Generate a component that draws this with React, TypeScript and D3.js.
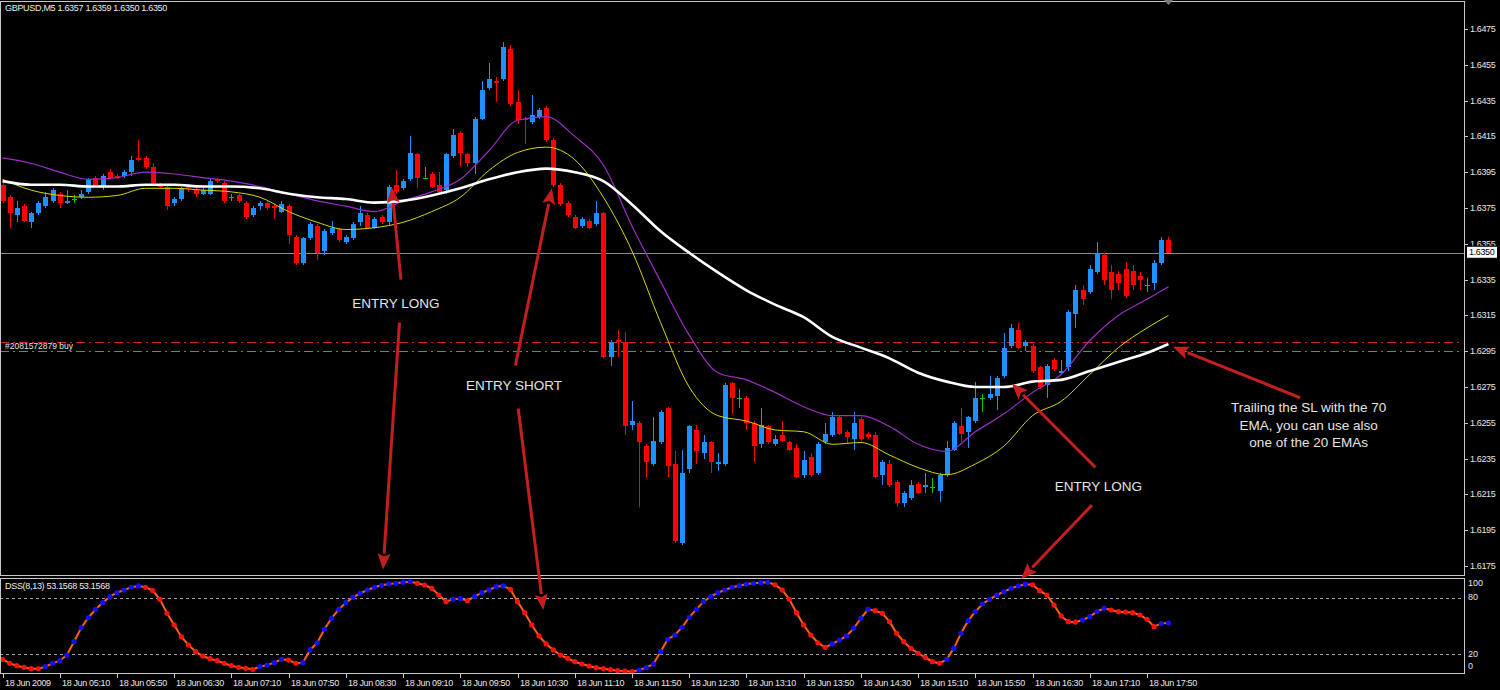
import React, { useEffect, useRef } from 'react';
import * as d3 from 'd3';

const WIDTH = 1500;
const HEIGHT = 690;

// M5 bars from 18 Jun 04:30, a time label every 8 bars
const TIME_LABELS = [
  '18 Jun 2009', '18 Jun 05:10', '18 Jun 05:50', '18 Jun 06:30', '18 Jun 07:10', '18 Jun 07:50',
  '18 Jun 08:30', '18 Jun 09:10', '18 Jun 09:50', '18 Jun 10:30', '18 Jun 11:10', '18 Jun 11:50',
  '18 Jun 12:30', '18 Jun 13:10', '18 Jun 13:50', '18 Jun 14:30', '18 Jun 15:10', '18 Jun 15:50',
  '18 Jun 16:30', '18 Jun 17:10', '18 Jun 17:50',
];

const OPEN = [
  1.6388, 1.6381, 1.6371, 1.6376, 1.6367, 1.6372, 1.6376, 1.6379, 1.6383, 1.6378,
  1.6380, 1.6381, 1.6384, 1.6392, 1.6387, 1.6395, 1.6393, 1.6393, 1.6395, 1.6403,
  1.6403, 1.6398, 1.6388, 1.6387, 1.6378, 1.6380, 1.6387, 1.6385, 1.6383, 1.6383,
  1.6391, 1.6389, 1.6381, 1.6382, 1.6378, 1.6371, 1.6376, 1.6378, 1.6376, 1.6373,
  1.6376, 1.6359, 1.6344, 1.6358, 1.6365, 1.6351, 1.6361, 1.6363, 1.6356, 1.6358,
  1.6367, 1.6371, 1.6364, 1.6370, 1.6367, 1.6388, 1.6386, 1.6391, 1.6405, 1.6392,
  1.6394, 1.6388, 1.6385, 1.6404, 1.6417, 1.6405, 1.6400, 1.6425, 1.6442, 1.6446,
  1.6447, 1.6464, 1.6434, 1.6425, 1.6423, 1.6426, 1.6431, 1.6413, 1.6388, 1.6378,
  1.6370, 1.6365, 1.6368, 1.6366, 1.6372, 1.6292, 1.6301, 1.6300, 1.6254, 1.6255,
  1.6242, 1.6232, 1.6244, 1.6263, 1.6232, 1.6188, 1.6229, 1.6251, 1.6238, 1.6244,
  1.6232, 1.6232, 1.6277, 1.6269, 1.6269, 1.6255, 1.6243, 1.6253, 1.6243, 1.6248,
  1.6244, 1.6241, 1.6226, 1.6236, 1.6227, 1.6244, 1.6248, 1.6258, 1.6250, 1.6246,
  1.6257, 1.6249, 1.6248, 1.6226, 1.6232, 1.6222, 1.6210, 1.6213, 1.6221, 1.6219,
  1.6219, 1.6217, 1.6226, 1.6240, 1.6253, 1.6250, 1.6256, 1.6269, 1.6269, 1.6270,
  1.6281, 1.6298, 1.6307, 1.6298, 1.6298, 1.6286, 1.6276, 1.6290, 1.6283, 1.6286,
  1.6316, 1.6329, 1.6328, 1.6339, 1.6349, 1.6339, 1.6338, 1.6341, 1.6340, 1.6337,
  1.6332, 1.6333, 1.6344, 1.6357,
];
const HIGH = [
  1.6389, 1.6382, 1.6379, 1.6377, 1.6373, 1.6379, 1.6384, 1.6386, 1.6384, 1.6385,
  1.6382, 1.6385, 1.6392, 1.6393, 1.6394, 1.6397, 1.6394, 1.6396, 1.6404, 1.6413,
  1.6404, 1.6400, 1.6389, 1.6388, 1.6381, 1.6387, 1.6388, 1.6386, 1.6386, 1.6391,
  1.6392, 1.6390, 1.6383, 1.6383, 1.6379, 1.6376, 1.6379, 1.6379, 1.6377, 1.6379,
  1.6377, 1.6360, 1.6359, 1.6367, 1.6366, 1.6363, 1.6368, 1.6364, 1.6360, 1.6367,
  1.6376, 1.6372, 1.6370, 1.6371, 1.6388, 1.6396, 1.6391, 1.6415, 1.6406, 1.6398,
  1.6395, 1.6395, 1.6406, 1.6419, 1.6418, 1.6406, 1.6426, 1.6446, 1.6456, 1.6448,
  1.6468, 1.6466, 1.6441, 1.6426, 1.6438, 1.6431, 1.6432, 1.6414, 1.6389, 1.6379,
  1.6371, 1.6370, 1.6369, 1.6379, 1.6373, 1.6301, 1.6307, 1.6306, 1.6267, 1.6256,
  1.6243, 1.6258, 1.6262, 1.6264, 1.6239, 1.6240, 1.6254, 1.6254, 1.6248, 1.6245,
  1.6238, 1.6277, 1.6278, 1.6274, 1.6270, 1.6256, 1.6263, 1.6254, 1.6248, 1.6256,
  1.6245, 1.6243, 1.6239, 1.6238, 1.6244, 1.6255, 1.6261, 1.6259, 1.6251, 1.6261,
  1.6258, 1.6250, 1.6250, 1.6234, 1.6234, 1.6223, 1.6217, 1.6223, 1.6222, 1.6227,
  1.6224, 1.6227, 1.6245, 1.6256, 1.6263, 1.6259, 1.6278, 1.6271, 1.6281, 1.6281,
  1.6305, 1.6310, 1.6311, 1.6301, 1.6299, 1.6287, 1.6288, 1.6291, 1.6290, 1.6318,
  1.6332, 1.6332, 1.6343, 1.6356, 1.6350, 1.6343, 1.6340, 1.6345, 1.6343, 1.6339,
  1.6336, 1.6346, 1.6359, 1.6359,
];
const LOW = [
  1.6378, 1.6364, 1.6367, 1.6367, 1.6364, 1.6371, 1.6375, 1.6378, 1.6375, 1.6377,
  1.6378, 1.6380, 1.6383, 1.6387, 1.6385, 1.6391, 1.6391, 1.6392, 1.6393, 1.6401,
  1.6397, 1.6388, 1.6386, 1.6374, 1.6376, 1.6379, 1.6384, 1.6381, 1.6382, 1.6382,
  1.6389, 1.6378, 1.6379, 1.6378, 1.6369, 1.6370, 1.6374, 1.6374, 1.6369, 1.6372,
  1.6355, 1.6343, 1.6343, 1.6357, 1.6346, 1.6349, 1.6360, 1.6356, 1.6355, 1.6357,
  1.6365, 1.6363, 1.6363, 1.6366, 1.6365, 1.6383, 1.6385, 1.6390, 1.6386, 1.6391,
  1.6386, 1.6383, 1.6383, 1.6403, 1.6398, 1.6398, 1.6394, 1.6424, 1.6441, 1.6434,
  1.6446, 1.6432, 1.6422, 1.6411, 1.6422, 1.6425, 1.6412, 1.6387, 1.6376, 1.6370,
  1.6363, 1.6364, 1.6363, 1.6365, 1.6291, 1.6287, 1.6292, 1.6248, 1.6251, 1.6208,
  1.6224, 1.6231, 1.6243, 1.6225, 1.6188, 1.6187, 1.6227, 1.6232, 1.6235, 1.6227,
  1.6228, 1.6231, 1.6260, 1.6263, 1.6251, 1.6233, 1.6241, 1.6243, 1.6242, 1.6244,
  1.6239, 1.6224, 1.6224, 1.6225, 1.6226, 1.6243, 1.6247, 1.6248, 1.6243, 1.6240,
  1.6245, 1.6246, 1.6224, 1.6220, 1.6219, 1.6208, 1.6208, 1.6212, 1.6215, 1.6216,
  1.6216, 1.6211, 1.6225, 1.6239, 1.6244, 1.6241, 1.6255, 1.6261, 1.6268, 1.6262,
  1.6280, 1.6297, 1.6296, 1.6295, 1.6283, 1.6274, 1.6269, 1.6284, 1.6282, 1.6284,
  1.6308, 1.6321, 1.6327, 1.6338, 1.6332, 1.6324, 1.6329, 1.6325, 1.6329, 1.6329,
  1.6328, 1.6329, 1.6343, 1.6350,
];
const CLOSE = [
  1.6379, 1.6372, 1.6375, 1.6368, 1.6372, 1.6378, 1.6381, 1.6385, 1.6378, 1.6379,
  1.6380, 1.6383, 1.6391, 1.6388, 1.6393, 1.6392, 1.6392, 1.6395, 1.6402, 1.6402,
  1.6398, 1.6389, 1.6387, 1.6376, 1.6380, 1.6386, 1.6386, 1.6383, 1.6385, 1.6390,
  1.6390, 1.6379, 1.6381, 1.6379, 1.6370, 1.6375, 1.6378, 1.6375, 1.6375, 1.6377,
  1.6360, 1.6344, 1.6358, 1.6366, 1.6350, 1.6362, 1.6364, 1.6357, 1.6359, 1.6366,
  1.6372, 1.6364, 1.6369, 1.6367, 1.6387, 1.6384, 1.6390, 1.6406, 1.6392, 1.6392,
  1.6387, 1.6384, 1.6405, 1.6416, 1.6406, 1.6400, 1.6425, 1.6441, 1.6447, 1.6445,
  1.6465, 1.6433, 1.6424, 1.6424, 1.6427, 1.6430, 1.6413, 1.6388, 1.6377, 1.6371,
  1.6364, 1.6369, 1.6364, 1.6372, 1.6292, 1.6300, 1.6300, 1.6253, 1.6256, 1.6244,
  1.6233, 1.6245, 1.6261, 1.6231, 1.6189, 1.6227, 1.6253, 1.6239, 1.6244, 1.6233,
  1.6233, 1.6276, 1.6269, 1.6269, 1.6255, 1.6242, 1.6254, 1.6244, 1.6246, 1.6245,
  1.6240, 1.6225, 1.6234, 1.6226, 1.6243, 1.6249, 1.6258, 1.6249, 1.6247, 1.6255,
  1.6246, 1.6247, 1.6225, 1.6233, 1.6220, 1.6210, 1.6216, 1.6220, 1.6216, 1.6220,
  1.6219, 1.6226, 1.6241, 1.6255, 1.6249, 1.6258, 1.6269, 1.6269, 1.6271, 1.6280,
  1.6297, 1.6308, 1.6297, 1.6300, 1.6284, 1.6275, 1.6287, 1.6285, 1.6284, 1.6317,
  1.6329, 1.6324, 1.6341, 1.6350, 1.6335, 1.6329, 1.6333, 1.6326, 1.6332, 1.6335,
  1.6332, 1.6344, 1.6357, 1.6350,
];

// moving averages
const MA_BARS = [
  0, 4, 8, 12, 16, 20, 24, 28, 32, 36, 40, 44, 48, 52, 56, 60, 64, 68, 72, 76, 80,
  84, 88, 92, 96, 100, 104, 108, 112, 116, 120, 124, 128, 132, 136, 140, 144, 148, 152, 156, 160, 163,
];
const EMA70 = [
  1.6390, 1.6388, 1.6388, 1.6387, 1.6387, 1.6388, 1.6388, 1.6387, 1.6387, 1.6386, 1.6383,
  1.6381, 1.6380, 1.6378, 1.6379, 1.6382, 1.6386, 1.6391, 1.6395, 1.6397, 1.6395,
  1.6390, 1.6377, 1.6362, 1.6350, 1.6339, 1.6329, 1.6321, 1.6314, 1.6303, 1.6297,
  1.6291, 1.6283, 1.6278, 1.6275, 1.6275, 1.6278, 1.6279, 1.6284, 1.6289, 1.6294, 1.6299,
];
const EMA20_HIGH = [
  1.6403, 1.6400, 1.6395, 1.6391, 1.6392, 1.6395, 1.6394, 1.6392, 1.6390, 1.6387, 1.6383,
  1.6379, 1.6376, 1.6373, 1.6379, 1.6384, 1.6391, 1.6407, 1.6424, 1.6426, 1.6415,
  1.6399, 1.6365, 1.6334, 1.6304, 1.6283, 1.6279, 1.6272, 1.6264, 1.6259, 1.6259,
  1.6253, 1.6243, 1.6239, 1.6250, 1.6260, 1.6272, 1.6282, 1.6301, 1.6315, 1.6324, 1.6331,
];
const EMA20_LOW = [
  1.6391, 1.6385, 1.6382, 1.6381, 1.6382, 1.6386, 1.6386, 1.6385, 1.6384, 1.6381, 1.6373,
  1.6367, 1.6363, 1.6364, 1.6367, 1.6373, 1.6381, 1.6396, 1.6406, 1.6409, 1.6402,
  1.6381, 1.6351, 1.6311, 1.6275, 1.6259, 1.6256, 1.6251, 1.6250, 1.6243, 1.6244,
  1.6237, 1.6230, 1.6226, 1.6232, 1.6242, 1.6259, 1.6267, 1.6282, 1.6297, 1.6308, 1.6315,
];

// DSS(8,13), one value per bar
const DSS = [
  14.6, 10.3, 7.8, 6.0, 4.6, 4.5, 6.7, 10.3, 13.1, 19.1,
  33.3, 48.2, 58.8, 67.7, 74.8, 81.2, 85.4, 88.3, 91.2, 92.6,
  91.2, 87.6, 78.4, 63.5, 51.1, 38.6, 29.8, 22.7, 18.1, 15.2,
  13.1, 10.3, 7.8, 6.0, 5.0, 3.9, 6.7, 8.5, 11.0, 14.6,
  13.8, 10.3, 11.0, 24.5, 32.2, 46.5, 58.2, 67.7, 74.8, 80.5,
  84.8, 88.3, 91.2, 93.3, 94.7, 95.4, 96.5, 97.1, 95.4, 93.6,
  90.1, 83.0, 75.9, 78.4, 79.1, 76.9, 81.2, 85.4, 88.3, 91.8,
  92.6, 89.0, 75.9, 64.2, 51.1, 39.4, 30.9, 24.5, 19.1, 15.6,
  12.0, 9.6, 7.4, 5.7, 4.6, 3.5, 2.5, 2.1, 1.4, 3.2,
  5.7, 9.6, 22.7, 35.8, 40.4, 48.6, 59.3, 67.7, 75.9, 81.2,
  85.4, 88.3, 91.2, 92.9, 94.7, 95.4, 96.1, 96.5, 93.9, 88.3,
  78.4, 64.2, 51.1, 40.4, 32.2, 27.3, 30.9, 35.1, 39.4, 47.5,
  58.2, 67.7, 66.3, 63.5, 54.6, 42.2, 33.3, 26.2, 21.0, 16.7,
  12.0, 10.3, 14.6, 26.2, 42.2, 55.7, 65.2, 73.4, 78.4, 83.0,
  86.5, 90.1, 92.6, 94.5, 93.9, 87.6, 83.0, 72.3, 60.6, 54.6,
  54.2, 56.4, 59.9, 65.2, 68.8, 67.0, 65.2, 64.9, 64.2, 61.7,
  57.1, 49.3, 52.8, 53.2,
];

const PRICE_TICKS = [
  1.6475, 1.6455, 1.6435, 1.6415, 1.6395, 1.6375, 1.6355, 1.6335,
  1.6315, 1.6295, 1.6275, 1.6255, 1.6235, 1.6215, 1.6195, 1.6175,
];
const DSS_LEVELS = [80, 20];
const DSS_TICKS = [100, 80, 20, 0];

const LAST_PRICE = 1.635;
const ORDER_RED = 1.63;
const ORDER_GREEN = 1.6295;

// annotation arrows: [bar, value] pairs; value is a price or a DSS reading
const ARROWS = [
  { from: [55.7, 1.6335], to: [54.4, 1.63868], toPanel: 'main' },
  { from: [55.5, 1.6311], to: [53.2, 1.6173], toPanel: 'main' },
  { from: [71.7, 1.6287], to: [76.8, 1.6386], toPanel: 'main' },
  { from: [72.1, 1.6263], to: [75.6, 67], toPanel: 'dss' },
  { from: [152.8, 1.623], to: [141.1, 1.6277], toPanel: 'main' },
  { from: [152.3, 1.6209], to: [142.4, 100], toPanel: 'dss' },
  { from: [181.4, 1.6269], to: [163.6, 1.62975], toPanel: 'main' },
];
const NOTES = [
  { text: 'ENTRY LONG', bar: 55.0, price: 1.6321 },
  { text: 'ENTRY SHORT', bar: 71.5, price: 1.62755 },
  { text: 'ENTRY LONG', bar: 153.2, price: 1.6219 },
  { text: 'Trailing the SL with the 70', bar: 182.6, price: 1.62633 },
  { text: 'EMA, you can use also', bar: 182.6, price: 1.62532 },
  { text: 'one of the 20 EMAs', bar: 182.6, price: 1.62437 },
];

const BULL = '#1e90ff';
const BEAR = '#ff0000';
const DOJI = '#00c800';
const ARROW_COLOR = '#c41e1e';
const FONT = '"Liberation Sans", Arial, sans-serif';

export default function App() {
  const svgRef = useRef<SVGSVGElement | null>(null);

  useEffect(() => {
    if (!svgRef.current) return;
    const svg = d3.select(svgRef.current);
    svg.selectAll('*').remove();

    const right = 1464;
    const x = d3.scaleLinear().domain([0, 160]).range([2.5, 1147]);
    const y = d3.scaleLinear().domain([1.6175, 1.6475]).range([566, 29]);
    const yd = d3.scaleLinear().domain([0, 100]).range([673, 579]);

    svg.append('rect').attr('width', WIDTH).attr('height', HEIGHT).attr('fill', '#000');

    const defs = svg.append('defs');
    defs.append('clipPath').attr('id', 'mainClip')
      .append('rect').attr('x', 1).attr('y', 2).attr('width', right - 1).attr('height', 573);
    defs.append('clipPath').attr('id', 'dssClip')
      .append('rect').attr('x', 1).attr('y', 579).attr('width', right - 1).attr('height', 94);

    // panel frames
    svg.append('rect').attr('x', 0.5).attr('y', 1.5).attr('width', right).attr('height', 574)
      .attr('fill', 'none').attr('stroke', '#c8c8c8');
    svg.append('rect').attr('x', 0.5).attr('y', 578.5).attr('width', right).attr('height', 95)
      .attr('fill', 'none').attr('stroke', '#c8c8c8');

    const main = svg.append('g').attr('clip-path', 'url(#mainClip)');

    // price line and order lines
    main.append('line').attr('x1', 0).attr('x2', right).attr('y1', Math.round(y(LAST_PRICE)) + 0.5)
      .attr('y2', Math.round(y(LAST_PRICE)) + 0.5).attr('stroke', '#8c8c8c');
    main.append('line').attr('x1', 0).attr('x2', right - 4).attr('y1', Math.round(y(ORDER_RED)) + 0.5)
      .attr('y2', Math.round(y(ORDER_RED)) + 0.5).attr('stroke', '#d02020').attr('stroke-dasharray', '9,4,2,4');
    main.append('line').attr('x1', 0).attr('x2', right - 4).attr('y1', Math.round(y(ORDER_GREEN)) + 0.5)
      .attr('y2', Math.round(y(ORDER_GREEN)) + 0.5).attr('stroke', '#22b422').attr('stroke-width', 1.2)
      .attr('stroke-dasharray', '9,4,2,4');
    svg.append('text').attr('x', 5).attr('y', (y(ORDER_RED) + y(ORDER_GREEN)) / 2)
      .attr('dominant-baseline', 'middle').attr('fill', '#e0e0e0')
      .attr('font-family', FONT).attr('font-size', 8.5).text('#2081572879 buy');

    // candles
    const bars = d3.range(OPEN.length);
    const colorOf = (i: number) =>
      CLOSE[i] > OPEN[i] ? BULL : CLOSE[i] < OPEN[i] ? BEAR : DOJI;
    const candles = main.append('g').attr('shape-rendering', 'crispEdges');
    candles.selectAll('line.wick').data(bars).enter().append('line')
      .attr('x1', (i) => Math.round(x(i)) + 0.5).attr('x2', (i) => Math.round(x(i)) + 0.5)
      .attr('y1', (i) => y(HIGH[i])).attr('y2', (i) => y(LOW[i]))
      .attr('stroke', colorOf);
    candles.selectAll('rect.body').data(bars).enter().append('rect')
      .attr('x', (i) => Math.round(x(i)) - 2)
      .attr('width', 5)
      .attr('y', (i) => y(Math.max(OPEN[i], CLOSE[i])))
      .attr('height', (i) => Math.max(1, Math.abs(y(OPEN[i]) - y(CLOSE[i]))))
      .attr('fill', colorOf);

    // moving averages
    const maLine = (vals: number[]) =>
      d3.line<number>().x((d, k) => x(MA_BARS[k])).y((d) => y(d)).curve(d3.curveMonotoneX)(vals);
    main.append('path').attr('d', maLine(EMA20_LOW)).attr('fill', 'none')
      .attr('stroke', '#d8d800').attr('stroke-width', 1);
    main.append('path').attr('d', maLine(EMA20_HIGH)).attr('fill', 'none')
      .attr('stroke', '#9a2fc4').attr('stroke-width', 1.2);
    main.append('path').attr('d', maLine(EMA70)).attr('fill', 'none')
      .attr('stroke', '#ffffff').attr('stroke-width', 2.6);

    // header
    svg.append('text').attr('x', 5).attr('y', 9).attr('dominant-baseline', 'middle')
      .attr('fill', '#ececec').attr('font-family', FONT).attr('font-size', 9)
      .attr('letter-spacing', -0.3).text('GBPUSD,M5  1.6357 1.6359 1.6350 1.6350');

    // chart shift marker
    const sx = x(OPEN.length - 1);
    svg.append('path').attr('d', `M${sx - 4.5},0L${sx + 4.5},0L${sx},5Z`).attr('fill', '#7a7a7a');

    // price axis
    const pa = svg.append('g');
    PRICE_TICKS.forEach((p) => {
      const py = Math.round(y(p)) + 0.5;
      pa.append('line').attr('x1', right).attr('x2', right + 4).attr('y1', py).attr('y2', py)
        .attr('stroke', '#c8c8c8');
      pa.append('text').attr('x', right + 6).attr('y', py).attr('dominant-baseline', 'middle')
        .attr('fill', '#e6e6e6').attr('font-family', FONT).attr('font-size', 9)
        .attr('letter-spacing', -0.35).text(d3.format('.4f')(p));
    });
    const ly = y(LAST_PRICE);
    pa.append('rect').attr('x', right + 2.5).attr('y', ly - 6.5).attr('width', 31).attr('height', 12)
      .attr('fill', '#ffffff').attr('stroke', '#000');
    pa.append('text').attr('x', right + 5).attr('y', ly).attr('dominant-baseline', 'middle')
      .attr('fill', '#000').attr('font-family', FONT).attr('font-size', 9)
      .attr('letter-spacing', -0.35).text(d3.format('.4f')(LAST_PRICE));

    // DSS panel
    const dss = svg.append('g').attr('clip-path', 'url(#dssClip)');
    DSS_LEVELS.forEach((v) => {
      dss.append('line').attr('x1', 0).attr('x2', right).attr('y1', Math.round(yd(v)) + 0.5)
        .attr('y2', Math.round(yd(v)) + 0.5).attr('stroke', '#a0a0a0').attr('stroke-dasharray', '3,3');
    });
    const dssLine = d3.line<number>().x((d, i) => x(i)).y((d) => yd(d));
    dss.append('path').attr('d', dssLine(DSS)).attr('fill', 'none')
      .attr('stroke', '#ff6010').attr('stroke-width', 2);
    dss.selectAll('circle').data(DSS).enter().append('circle')
      .attr('cx', (d, i) => x(i)).attr('cy', (d) => yd(d)).attr('r', 2.6)
      .attr('fill', (d, i) => (i > 0 && d > DSS[i - 1] ? '#1010ff' : '#ff1010'));
    svg.append('text').attr('x', 5).attr('y', 587).attr('dominant-baseline', 'middle')
      .attr('fill', '#ececec').attr('font-family', FONT).attr('font-size', 9)
      .attr('letter-spacing', -0.3).text('DSS(8,13) 53.1568 53.1568');
    DSS_TICKS.forEach((v) => {
      const ty = v === 100 ? yd(v) + 5 : v === 0 ? yd(v) - 6 : yd(v);
      svg.append('text').attr('x', right + 4).attr('y', ty).attr('dominant-baseline', 'middle')
        .attr('fill', '#e6e6e6').attr('font-family', FONT).attr('font-size', 9).text(String(v));
    });

    // time axis
    TIME_LABELS.forEach((t, k) => {
      const tx = Math.round(x(k * 8)) + 0.5;
      svg.append('line').attr('x1', tx).attr('x2', tx).attr('y1', 673).attr('y2', 678)
        .attr('stroke', '#c8c8c8');
      svg.append('text').attr('x', tx + 1.5).attr('y', 686).attr('fill', '#e6e6e6')
        .attr('font-family', FONT).attr('font-size', 9).attr('letter-spacing', -0.35).text(t);
    });

    // annotations
    const ann = svg.append('g');
    ARROWS.forEach((a) => {
      const x1 = x(a.from[0]);
      const y1 = y(a.from[1]);
      const x2 = x(a.to[0]);
      const y2 = a.toPanel === 'dss' ? yd(a.to[1]) : y(a.to[1]);
      const ang = Math.atan2(y2 - y1, x2 - x1);
      const hl = 16;
      const hw = 6.5;
      const bx = x2 - hl * Math.cos(ang);
      const by = y2 - hl * Math.sin(ang);
      ann.append('line').attr('x1', x1).attr('y1', y1).attr('x2', bx).attr('y2', by)
        .attr('stroke', ARROW_COLOR).attr('stroke-width', 3);
      const px = -Math.sin(ang) * hw;
      const py = Math.cos(ang) * hw;
      ann.append('path')
        .attr('d', `M${x2},${y2}L${bx + px},${by + py}L${bx + 3 * Math.cos(ang)},${by + 3 * Math.sin(ang)}L${bx - px},${by - py}Z`)
        .attr('fill', ARROW_COLOR);
    });
    NOTES.forEach((n) => {
      ann.append('text').attr('x', x(n.bar)).attr('y', y(n.price)).attr('text-anchor', 'middle')
        .attr('dominant-baseline', 'middle').attr('fill', '#e4e4e4')
        .attr('font-family', FONT).attr('font-size', 13.5).text(n.text);
    });
  }, []);

  return (
    <div style={{ position: 'absolute', left: 0, top: 0, width: WIDTH, height: HEIGHT, background: '#000' }}>
      <svg ref={svgRef} width={WIDTH} height={HEIGHT} style={{ display: 'block' }} />
    </div>
  );
}
